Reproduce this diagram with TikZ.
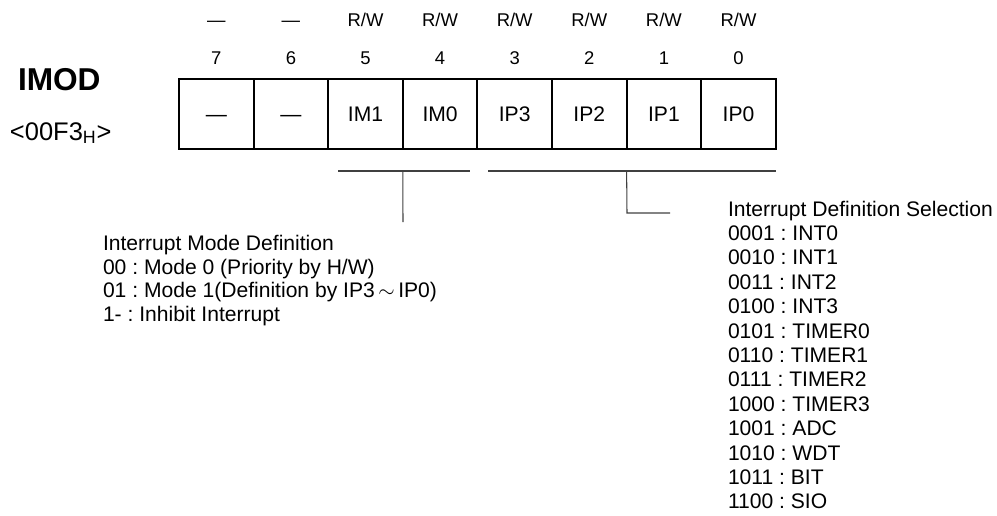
\documentclass[tikz,border=0pt]{standalone}
\usepackage{fontspec}
\setmainfont{Liberation Sans}
\usepackage{tikz}
\usetikzlibrary{positioning}

\newcommand\regrw{R/W}
\frenchspacing

\begin{document}
\begin{tikzpicture}[
  x=0.02cm, y=-0.02cm,
  every node/.style={inner sep=0pt, outer sep=0pt},
  regname/.style={font=\fontsize{18}{20}\selectfont\bfseries, anchor=base west},
  regaddr/.style={font=\fontsize{14.5}{16}\selectfont, anchor=base west},
  toplbl/.style ={font=\fontsize{10.5}{12}\selectfont, text height=7.5pt, text depth=0pt},
  bitcell/.style={draw, line width=1.1pt, minimum width=1.492cm, minimum height=1.4cm,
                  font=\fontsize{12}{14}\selectfont, text height=8.6pt, text depth=0pt},
  desc/.style   ={font=\fontsize{12}{14}\selectfont, anchor=base west},
  lin/.style={line width=0.6pt, black!75},
]
\useasboundingbox (0,0) rectangle (997,515);

%% ── Register name ───────────────────────────────────────────────────────────
\node[regname] (imod) at (18,90) {IMOD};
\node[regaddr] (addr) at (10,140) {<00F3\textsubscript{H}>};

%% ── Bit cells, bit numbers, access ──────────────────────────────────────────
\foreach \lbl/\acc/\n in {\textemdash/\textemdash/7, \textemdash/\textemdash/6,
    IM1/\regrw/5, IM0/\regrw/4, IP3/\regrw/3, IP2/\regrw/2, IP1/\regrw/1, IP0/\regrw/0}{
  \pgfmathsetmacro\cx{179+(7.5-\n)*74.6}
  \node[bitcell] (bit\n) at (\cx,114) {\lbl};
  \node[toplbl]  (num\n) at (\cx,58)  {\n};
  \node[toplbl]  (acc\n) at (\cx,20)  {\acc};
}

%% ── Brackets ────────────────────────────────────────────────────────────────
\coordinate (imL) at (338,171);
\coordinate (imR) at (470,171);
\coordinate (imM) at (bit4.south west |- imL);
\coordinate (imEnd) at (403,222);

\coordinate (ipL) at (488,171);
\coordinate (ipR) at (bit0.south east |- ipL);
\coordinate (ipM) at (bit1.south west |- ipL);
\coordinate (ipK) at (627,213);
\coordinate (ipEnd) at (670,213);

\draw[lin] (imL) -- (imR);
\draw[lin] (imM) -- (imEnd);
\draw[lin] (ipL) -- (ipR);
\draw[lin] (ipM) -- (ipK) -- (ipEnd);

%% ── Descriptions ────────────────────────────────────────────────────────────
\foreach \txt [count=\k from 0] in {Interrupt Mode Definition,
    00 : Mode 0 (Priority by H/W),
    {01 : Mode 1(Definition by IP3\,$\sim$\,IP0)},
    1- : Inhibit Interrupt}
  \node[desc] (mode\k) at (103,250.5+23.5*\k) {\txt};

\foreach \txt [count=\k from 0] in {Interrupt Definition Selection,
    0001 : INT0, 0010 : INT1, 0011 : INT2, 0100 : INT3,
    0101 : TIMER0, 0110 : TIMER1, 0111 : TIMER2, 1000 : TIMER3,
    1001 : ADC, 1010 : WDT, 1011 : BIT, 1100 : SIO}
  \node[desc] (sel\k) at (728,216+24.4*\k) {\txt};

\end{tikzpicture}
\end{document}
